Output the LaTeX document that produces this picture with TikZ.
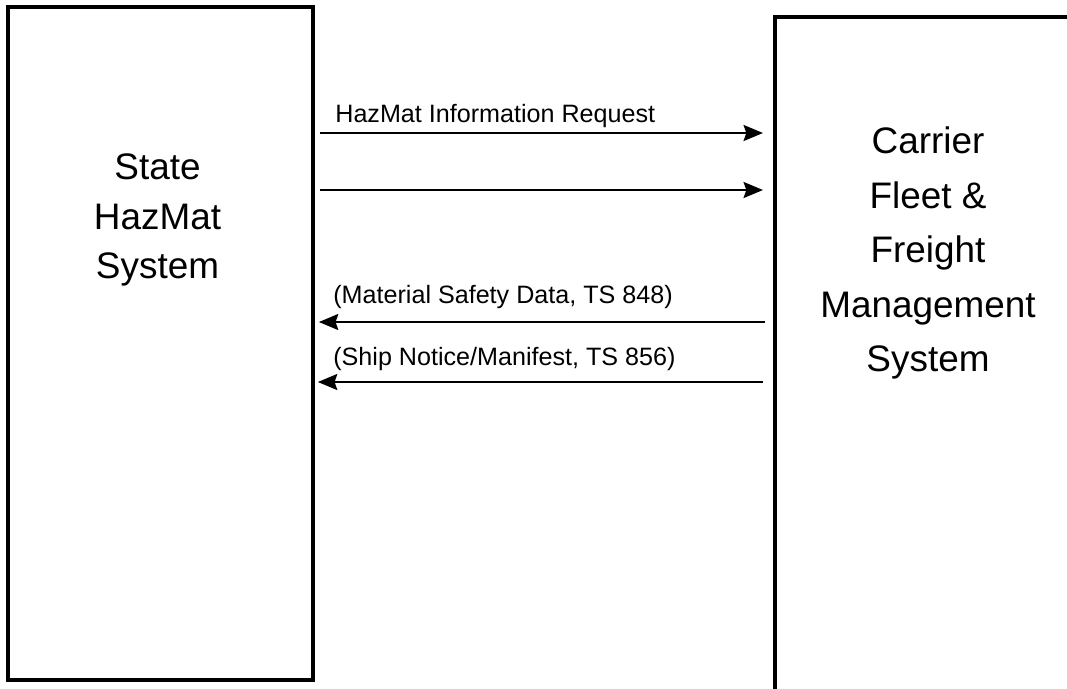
\documentclass[tikz,border=0pt]{standalone}
\usepackage{fontspec}
\setmainfont{Liberation Sans}
\usepackage{tikz}
\usetikzlibrary{arrows.meta, positioning}

\begin{document}
\begin{tikzpicture}[>={Stealth[length=11pt, width=9pt, inset=1.5pt]},
  sysbox/.style={draw, line width=2.1pt, inner sep=0pt},
  syslabel/.style={align=center, font=\fontsize{21}{28}\selectfont},
  msg/.style={->, line width=1.6pt},
  msglabel/.style={font=\fontsize{14.3}{17}\selectfont, inner sep=0pt}]
  \useasboundingbox (0,0) rectangle (21.34,-13.76);
  \clip (0,0) rectangle (21.34,-13.76);

  % Systeme
  \node[sysbox, minimum width=6.1cm, minimum height=13.46cm] (hazmat) at (3.21,-6.87) {};
  \node[sysbox, minimum width=7cm, minimum height=14cm, anchor=north west] (fleet) at (15.46,-0.3) {};
  \node[syslabel] (hazmattext) at (3.15,-4.40) {State\\HazMat\\System};
  \node[syslabel, font=\fontsize{21}{31}\selectfont] (fleettext) at (18.56,-5.06) {Carrier\\Fleet \&\\Freight\\Management\\System};

  % Zeilen der Meldungen
  \coordinate (r1) at (0,-2.66);
  \coordinate (r2) at (0,-3.80);
  \coordinate (r3) at (0,-6.44);
  \coordinate (r4) at (0,-7.64);

  % Meldungen
  \draw[msg, shorten <=0.1cm, shorten >=0.2cm] (hazmat.east |- r1) -- (fleet.west |- r1);
  \draw[msg, shorten <=0.1cm, shorten >=0.2cm] (hazmat.east |- r2) -- (fleet.west |- r2);
  \draw[msg, shorten <=0.16cm, shorten >=0.08cm] (fleet.west |- r3) -- (hazmat.east |- r3);
  \draw[msg, shorten <=0.2cm, shorten >=0.06cm] (fleet.west |- r4) -- (hazmat.east |- r4);

  % Beschriftungen
  \node[msglabel, anchor=base west] (req) at (6.7,-2.44) {HazMat Information Request};
  \node[msglabel, anchor=base west] (msds) at (6.66,-6.06) {(Material Safety Data, TS 848)};
  \node[msglabel, anchor=base west] (asn) at (6.66,-7.30) {(Ship Notice/Manifest, TS 856)};
\end{tikzpicture}
\end{document}
